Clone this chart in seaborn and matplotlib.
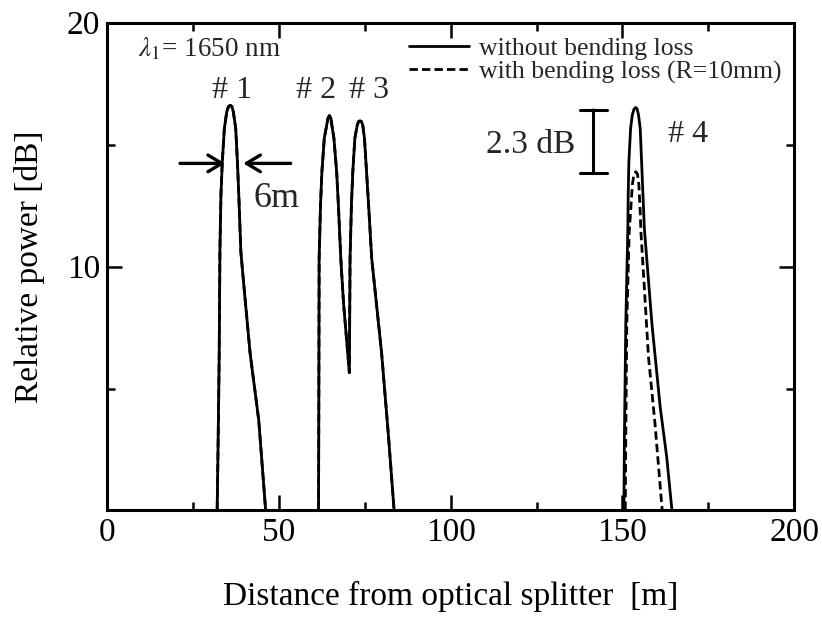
import numpy as np
import pandas as pd
import matplotlib
matplotlib.use("Agg")
import matplotlib.pyplot as plt
import seaborn as sns
from matplotlib.lines import Line2D

# ---- data ----
peak1_x = [31.9, 32.3, 32.6, 32.8, 33.1, 33.5, 34.1, 34.8, 35.3, 35.8, 36.3, 36.7, 37.4, 37.9, 38.3, 38.9, 39.8, 41.6, 44.1, 46.4]
peak1_y = [-1.0, 3.0, 6.44, 10.61, 12.94, 14.3, 15.67, 16.35, 16.56, 16.61, 16.56, 16.35, 15.67, 14.3, 12.94, 10.61, 9.18, 6.44, 3.71, -0.5]

peak23_x = [61.5, 61.6, 61.7, 62.1, 62.5, 63.2, 63.9, 64.3, 64.7, 65.1, 65.4, 66.0, 66.8, 67.3, 68.0, 68.8, 70.5,
            70.7, 71.1, 71.5, 72.1, 72.8, 73.2, 73.6, 74.0, 74.4, 74.9, 75.5, 76.1, 77.0, 79.9, 81.9, 83.8]
peak23_y = [-1.0, 4.0, 10.34, 12.53, 13.89, 15.26, 15.8, 16.1, 16.19, 16.1, 15.8, 15.26, 13.89, 12.53, 10.34, 8.5, 5.65,
            10.34, 12.53, 13.89, 15.26, 15.8, 15.95, 15.97, 15.95, 15.8, 15.26, 13.89, 12.53, 10.34, 6.44, 3.03, -0.5]

peak4_solid_x = [150.4, 150.6, 151.0, 151.6, 151.7, 151.9, 152.4, 152.9, 153.4, 153.9, 154.3, 154.7, 155.2, 155.6, 156.0, 156.4, 158.6, 161.0, 162.9, 164.8]
peak4_solid_y = [-1.0, 3.0, 7.67, 11.57, 12.94, 14.3, 15.67, 16.22, 16.46, 16.52, 16.46, 16.22, 15.67, 14.3, 12.94, 11.57, 7.67, 4.26, 2.21, -0.5]

peak4_dash_x = [150.8, 151.0, 151.3, 152.0, 152.4, 152.9, 153.4, 153.9, 154.4, 154.8, 155.2, 155.4, 156.2, 157.6, 159.5, 161.9]
peak4_dash_y = [-1.0, 3.0, 7.67, 11.43, 12.25, 13.35, 13.8, 13.89, 13.8, 13.35, 12.25, 11.43, 9.6, 6.31, 3.57, -0.5]

cond_labels = ["without bending loss", "with bending loss (R=10mm)"]
x_ticks = [0, 50, 100, 150, 200]
x_minor = [25, 75, 125, 175]
y_ticks = [0, 10, 20]
y_tick_labels = ["", "10", "20"]
y_minor = [5, 15]
peak_labels = ["# 1", "# 2", "# 3", "# 4"]

# ---- build table ----
rows = []
def add(xs, ys, cond, seg):
    for a, b in zip(xs, ys):
        rows.append({"Distance": a, "Power": b, "cond": cond, "seg": seg})

add(peak1_x, peak1_y, cond_labels[0], "s1")
add(peak23_x, peak23_y, cond_labels[0], "s2")
add(peak4_solid_x, peak4_solid_y, cond_labels[0], "s3")
add(peak1_x, peak1_y, cond_labels[1], "d1")
add(peak23_x, peak23_y, cond_labels[1], "d2")
add(peak4_dash_x, peak4_dash_y, cond_labels[1], "d3")
df = pd.DataFrame(rows)

sns.set_theme(style="ticks")
plt.rcParams["font.family"] = ["Liberation Serif", "DejaVu Serif"]
plt.rcParams["mathtext.fontset"] = "stix"

fig = plt.figure(figsize=(8.22, 6.21), dpi=100)
ax = fig.add_axes([0.1305, 0.178, 0.8355, 0.7855])

LW = 2.0
DASH = (3, 1.5)
sns.lineplot(data=df, x="Distance", y="Power", style="cond", units="seg",
             estimator=None, sort=False, color="black", linewidth=LW,
             style_order=cond_labels,
             dashes={cond_labels[0]: "", cond_labels[1]: DASH},
             legend=False, ax=ax)

ax.set_xlim(0, 200)
ax.set_ylim(0, 20)
ax.set_xticks(x_ticks)
ax.set_xticks(x_minor, minor=True)
ax.set_yticks(y_ticks)
ax.set_yticklabels(y_tick_labels)
ax.set_yticks(y_minor, minor=True)
ax.tick_params(which="both", direction="in", top=True, right=True,
               color="black", width=1.8, labelsize=24, labelcolor="black")
ax.tick_params(which="major", length=11, pad=5)
ax.tick_params(which="minor", length=6)
for s in ax.spines.values():
    s.set_linewidth(2.2)
    s.set_color("black")

ax.set_xlabel("Distance from optical splitter  [m]", fontsize=24, labelpad=24, color="black")
ax.set_ylabel("Relative power [dB]", fontsize=24, labelpad=16, color="black")

# legend
handles = [Line2D([], [], color="black", lw=LW),
           Line2D([], [], color="black", lw=LW, dashes=DASH)]
ax.legend(handles, cond_labels, loc="upper left", bbox_to_anchor=(0.44, 0.970),
          frameon=False, fontsize=18.5, handlelength=2.3, handletextpad=0.4,
          labelspacing=0.0, borderpad=0, borderaxespad=0)

# annotations
ax.text(8.9, 18.9, r"$\lambda_1$= 1650 nm", fontsize=19.5, ha="left", va="center")
ax.text(36.3, 17.2, peak_labels[0], fontsize=23, ha="center", va="center")
ax.text(60.8, 17.2, peak_labels[1], fontsize=23, ha="center", va="center")
ax.text(76.3, 17.2, peak_labels[2], fontsize=23, ha="center", va="center")
ax.text(169.2, 15.4, peak_labels[3], fontsize=23, ha="center", va="center")
ax.text(49.3, 12.8, "6m", fontsize=26, ha="center", va="center")
ax.text(136.4, 15.0, "2.3 dB", fontsize=24, ha="right", va="center")

arrow = dict(arrowstyle="->,head_length=0.5,head_width=0.3", color="black",
             lw=2.4, shrinkA=0, shrinkB=0, mutation_scale=20)
ax.annotate("", xy=(34.3, 14.23), xytext=(21.2, 14.23), arrowprops=arrow)
ax.annotate("", xy=(39.6, 14.23), xytext=(53.4, 14.23), arrowprops=arrow)
ax.annotate("", xy=(141.6, 13.82), xytext=(141.6, 16.42),
            arrowprops=dict(arrowstyle="|-|,widthA=0.47,widthB=0.47", color="black",
                            lw=2.2, shrinkA=0, shrinkB=0, mutation_scale=20))

fig.savefig("out.png", dpi=100)
